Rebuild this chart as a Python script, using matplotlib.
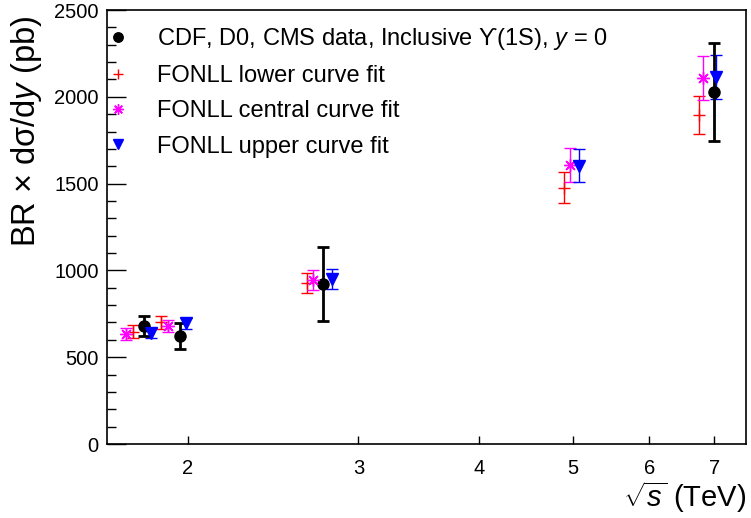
import numpy as np
import matplotlib.pyplot as plt
from matplotlib.ticker import FixedLocator, FixedFormatter, MultipleLocator, NullLocator

plt.rcParams['font.family'] = ['Liberation Sans', 'DejaVu Sans']
plt.rcParams['mathtext.fontset'] = 'custom'
plt.rcParams['mathtext.rm'] = 'Liberation Sans'
plt.rcParams['mathtext.it'] = 'Liberation Sans:italic'
plt.rcParams['mathtext.sf'] = 'Liberation Sans'

# data points (sqrt(s) in TeV, cross section in pb)
data_x = [1.80, 1.96, 2.76, 7.00]
data_y = [682, 624, 922, 2026]
data_err = [57, 75, 211, 283]

# FONLL fits, drawn slightly shifted in sqrt(s)
low_x = [1.755, 1.874, 2.653, 4.896, 6.752]
low_y = [647, 701, 929, 1477, 1895]
low_err = [38, 38, 58, 88, 110]

cen_x = [1.726, 1.908, 2.696, 4.966, 6.81]
cen_y = [634, 682, 945, 1607, 2110]
cen_err = [33, 35, 58, 96, 127]

up_x = [1.830, 1.990, 2.820, 5.078, 7.03]
up_y = [641, 695, 949, 1603, 2116]
up_err = [30, 33, 58, 95, 127]

xticks = [2, 3, 4, 5, 6, 7]

fig = plt.figure(figsize=(7.51, 5.18), dpi=100)
ax = fig.add_axes([107 / 751, 74 / 518, 639 / 751, 434 / 518])

ax.errorbar(low_x, low_y, yerr=low_err, fmt='none', ecolor='red', elinewidth=1, capsize=4)
ax.errorbar(cen_x, cen_y, yerr=cen_err, fmt='none', ecolor='magenta', elinewidth=1, capsize=4)
ax.errorbar(up_x, up_y, yerr=up_err, fmt='none', ecolor='blue', elinewidth=1, capsize=4)
ax.errorbar(data_x, data_y, yerr=data_err, fmt='none', ecolor='black', elinewidth=2, capsize=4, capthick=2)

h_data, = ax.plot(data_x, data_y, 'o', color='black', markersize=8, linestyle='none')
h_low, = ax.plot(low_x, low_y, '+', color='red', markersize=9, markeredgewidth=1, linestyle='none')
h_cen, = ax.plot(cen_x, cen_y, marker=(8, 2, 0), color='magenta', markersize=9, markeredgewidth=1, linestyle='none')
h_up, = ax.plot(up_x, up_y, 'v', color='blue', markersize=8, linestyle='none')

ax.set_xscale('log')
ax.set_xlim(1.649, 7.55)
ax.set_ylim(0, 2500)

ax.xaxis.set_major_locator(FixedLocator(xticks))
ax.xaxis.set_major_formatter(FixedFormatter([str(t) for t in xticks]))
ax.xaxis.set_minor_locator(NullLocator())
ax.yaxis.set_major_locator(MultipleLocator(500))
ax.yaxis.set_minor_locator(MultipleLocator(100))

ax.tick_params(axis='x', which='major', direction='in', length=6, width=1, labelsize=14.5, pad=11)
ax.tick_params(axis='y', which='major', direction='in', length=13.5, width=1, labelsize=14.5, pad=6)
ax.tick_params(axis='y', which='minor', direction='in', length=6.8, width=1)
for s in ax.spines.values():
    s.set_linewidth(1.2)

ax.set_ylabel('BR \u00d7 d\u03c3/d$y$ (pb)', fontsize=23.5)
ax.yaxis.set_label_coords(-0.098, 0.988)
ax.yaxis.label.set_horizontalalignment('right')
ax.set_xlabel(r'$\sqrt{s}$ (TeV)', fontsize=21)
ax.xaxis.set_label_coords(1.0, -0.082)
ax.xaxis.label.set_horizontalalignment('right')

leg = ax.legend([h_data, h_low, h_cen, h_up],
                ['CDF, D0, CMS data, Inclusive \u03d2(1S), $y$ = 0',
                 'FONLL lower curve fit',
                 'FONLL central curve fit',
                 'FONLL upper curve fit'],
                loc='upper left', bbox_to_anchor=(0.0, 0.974), frameon=False,
                fontsize=17, handlelength=0.5, handletextpad=1.4, borderpad=0,
                labelspacing=0.56, markerscale=0.85, borderaxespad=0.2)

fig.savefig('out.png', dpi=100)
